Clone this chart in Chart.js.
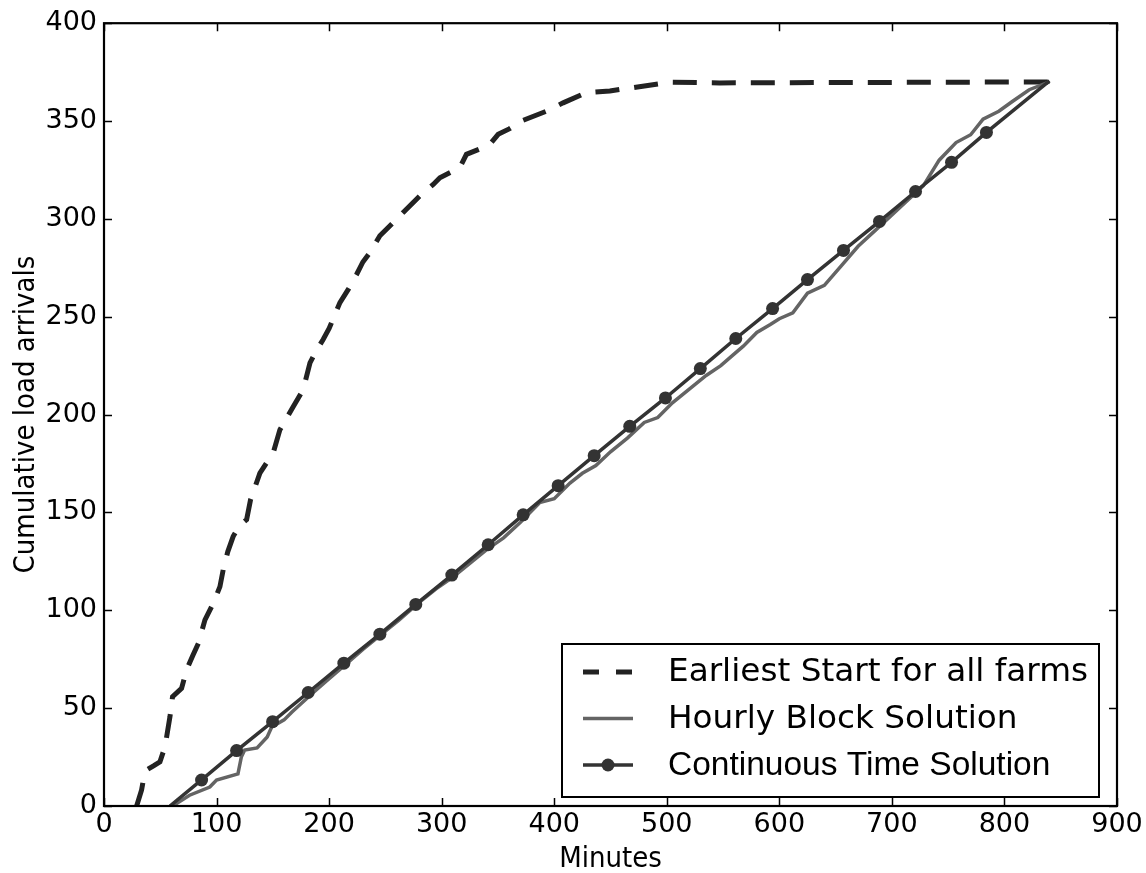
<!DOCTYPE html>
<html>
<head>
<meta charset="utf-8">
<script src="https://cdn.jsdelivr.net/npm/chart.js@4"></script>
<style>
  html, body { margin: 0; padding: 0; background: #fff; }
  #wrap { width: 1146px; height: 873px; }
</style>
</head>
<body>
<div id="wrap"><canvas id="arrivalsChart" width="1146" height="873"></canvas></div>
<script>
// Axis ticks
const xTicks = [0, 100, 200, 300, 400, 500, 600, 700, 800, 900];
const yTicks = [0, 50, 100, 150, 200, 250, 300, 350, 400];

// Earliest Start for all farms
const earliestMinutes = [29, 33.4, 35.5, 37.9, 44, 49.7, 54.2, 58.6, 60.9, 68.9, 73.4, 79, 83.8, 89.7, 97.1, 103,
    106, 110, 114.8, 120, 126.7, 130.2, 138.5, 144, 150.4, 156.3, 162, 168.2, 177, 183, 188, 194.7, 200,
    209.6, 217, 224.4, 230, 236.2, 245.1, 255, 265.8, 280.6, 292.5, 298.4, 316.1, 322, 335, 342.8, 350.2,
    360, 372.4, 393, 407.9, 428.6, 449.4, 470.1, 502.7, 547, 840];
const earliestLoads = [0, 8.2, 15, 18.4, 20.5, 22.6, 30.3, 45.6, 55.9, 60.1, 69.6, 77, 83.1, 95.1, 103.6, 112.1,
    121, 130, 137.8, 143, 146.3, 156.5, 170.1, 175, 180.6, 192.3, 198, 204.2, 212.8, 226.4, 232, 238.4, 244,
    257.2, 264, 271.6, 278, 282.7, 291.4, 297, 303.3, 311.8, 317.6, 321, 326.2, 333, 336, 338.1, 343.2,
    346, 350.4, 355, 359.3, 364.5, 365.4, 367.1, 369.8, 369.5, 370];

// Hourly Block Solution
const hourlyMinutes = [61, 76, 94, 100, 119, 122, 125, 136, 145, 149, 160, 167, 185, 200, 215, 230, 245, 262,
    280, 295, 310, 325, 340, 355, 370, 387, 400, 414, 425, 437, 450, 465, 480, 492, 505, 520, 535, 548, 560,
    568, 580, 592, 600, 612, 625, 640, 655, 670, 685, 700, 715, 728, 742, 757, 770, 781, 795, 807, 822, 840];
const hourlyLoads = [0, 5.5, 9.7, 13.3, 16.4, 25, 28.6, 29.7, 35.3, 40.4, 44, 48, 57.5, 65, 72.5, 80, 87, 95,
    104, 111, 117, 124, 131, 137, 145, 155, 157, 165, 170, 174, 181, 188, 196, 198.5, 206, 213, 220, 225, 231,
    235, 242, 246, 249, 252, 262, 266, 276, 286, 294, 302, 310, 317, 330, 339, 343, 351, 355, 360, 366, 370];

// Continuous Time Solution
const continuousMinutes = [58.6, 86.7, 117.8, 149.8, 181.4, 213.1, 245.1, 277, 309, 341.3, 372.4, 403.5, 435.5,
    467.1, 498.8, 529.8, 561.3, 594, 625, 657, 689, 721, 753, 784, 840];
const continuousLoads = [0, 13.3, 28.3, 43.1, 58, 73, 87.8, 103, 118, 133.5, 148.8, 163.7, 179, 194, 208.5,
    223.5, 238.9, 254.2, 269, 283.9, 298.7, 314, 328.9, 344.2, 370.5];

const seriesNames = ['Earliest Start for all farms', 'Hourly Block Solution', 'Continuous Time Solution'];

const toPoints = (xs, ys) => xs.map((x, i) => ({ x: x, y: ys[i] }));

// matplotlib-like box: frame + inward ticks on all four sides
const frameTicks = {
    id: 'frameTicks',
    afterDatasetsDraw(chart) {
        const { ctx, chartArea: a, scales } = chart;
        const len = 8;
        ctx.save();
        ctx.strokeStyle = '#000';
        ctx.lineWidth = 1.5;
        ctx.beginPath();
        xTicks.forEach(v => {
            const px = Math.round(scales.x.getPixelForValue(v)) + 0.5;
            ctx.moveTo(px, a.bottom); ctx.lineTo(px, a.bottom - len);
            ctx.moveTo(px, a.top); ctx.lineTo(px, a.top + len);
        });
        yTicks.forEach(v => {
            const py = Math.round(scales.y.getPixelForValue(v)) + 0.5;
            ctx.moveTo(a.left, py); ctx.lineTo(a.left + len, py);
            ctx.moveTo(a.right, py); ctx.lineTo(a.right - len, py);
        });
        ctx.stroke();
        ctx.lineWidth = 2.2;
        ctx.strokeRect(a.left, a.top, a.right - a.left, a.bottom - a.top);
        ctx.restore();
    }
};

// legend box in lower right corner
// (the last entry in the original is set in an Arial-like face)
const legendFonts = ['32.7px "DejaVu Sans"', '32.7px "DejaVu Sans"', '33.5px "Liberation Sans"'];

const boxLegend = {
    id: 'boxLegend',
    afterDraw(chart) {
        const { ctx, chartArea: a } = chart;
        const boxW = 537, boxH = 153;
        const bx = a.right - 18 - boxW;
        const by = a.bottom - 9 - boxH;
        ctx.save();
        ctx.fillStyle = '#fff';
        ctx.fillRect(bx, by, boxW, boxH);
        ctx.strokeStyle = '#000';
        ctx.lineWidth = 2;
        ctx.strokeRect(bx, by, boxW, boxH);
        ctx.textBaseline = 'middle';
        chart.data.datasets.forEach((ds, i) => {
            const cy = by + 28 + i * 46.5;
            const x0 = bx + 21, x1 = bx + 71;
            ctx.strokeStyle = ds.borderColor;
            ctx.lineWidth = ds.borderWidth;
            ctx.setLineDash(ds.borderDash ? [16, 17] : []);
            ctx.beginPath();
            ctx.moveTo(x0, cy); ctx.lineTo(x1, cy);
            ctx.stroke();
            ctx.setLineDash([]);
            if (ds.legendMarker) {
                ctx.fillStyle = ds.pointBackgroundColor;
                ctx.beginPath();
                ctx.arc((x0 + x1) / 2, cy, 6.5, 0, Math.PI * 2);
                ctx.fill();
            }
            ctx.font = legendFonts[i];
            ctx.fillStyle = '#000';
            ctx.fillText(ds.label, bx + 106, cy + 1);
        });
        ctx.restore();
    }
};

const markerRadius = continuousMinutes.map((m, i) =>
    (i === 0 || i === continuousMinutes.length - 1) ? 0 : 6.5);

new Chart(document.getElementById('arrivalsChart').getContext('2d'), {
    type: 'line',
    data: {
        datasets: [{
            label: seriesNames[0],
            data: toPoints(earliestMinutes, earliestLoads),
            borderColor: '#222',
            borderWidth: 5,
            borderDash: [24, 15],
            pointRadius: 0,
            tension: 0,
            order: 2
        }, {
            label: seriesNames[1],
            data: toPoints(hourlyMinutes, hourlyLoads),
            borderColor: '#646464',
            borderWidth: 3.5,
            pointRadius: 0,
            tension: 0,
            order: 1
        }, {
            label: seriesNames[2],
            data: toPoints(continuousMinutes, continuousLoads),
            borderColor: '#333',
            borderWidth: 3.5,
            pointRadius: markerRadius,
            pointBackgroundColor: '#333',
            pointBorderColor: '#333',
            pointBorderWidth: 0,
            legendMarker: true,
            tension: 0,
            order: 0
        }]
    },
    options: {
        responsive: false,
        animation: false,
        events: [],
        layout: { padding: { top: 23, right: 29, left: 0, bottom: 0 } },
        plugins: {
            legend: { display: false },
            tooltip: { enabled: false }
        },
        scales: {
            x: {
                type: 'linear',
                min: 0,
                max: 900,
                afterBuildTicks: s => { s.ticks = xTicks.map(v => ({ value: v })); },
                afterFit: s => { s.height = 67; },
                grid: { display: false, drawTicks: false },
                border: { display: false },
                ticks: {
                    font: { family: 'DejaVu Sans', size: 27 },
                    color: '#000',
                    padding: 3,
                    maxRotation: 0,
                    autoSkip: false
                },
                title: {
                    display: true,
                    text: 'Minutes',
                    color: '#000',
                    font: { family: '"DejaVu Sans Condensed", "DejaVu Sans"', size: 29, lineHeight: 0.9 },
                    padding: { top: 0, bottom: 0 }
                }
            },
            y: {
                min: 0,
                max: 400,
                afterBuildTicks: s => { s.ticks = yTicks.map(v => ({ value: v })); },
                afterFit: s => { s.width = 104; },
                grid: { display: false, drawTicks: false },
                border: { display: false },
                ticks: {
                    font: { family: 'DejaVu Sans', size: 27 },
                    color: '#000',
                    padding: 7,
                    autoSkip: false
                },
                title: {
                    display: true,
                    text: 'Cumulative load arrivals',
                    color: '#000',
                    font: { family: '"DejaVu Sans Condensed", "DejaVu Sans"', size: 29, lineHeight: 1 },
                    padding: { top: 12, bottom: 0 }
                }
            }
        }
    },
    plugins: [frameTicks, boxLegend]
});
</script>
</body>
</html>
